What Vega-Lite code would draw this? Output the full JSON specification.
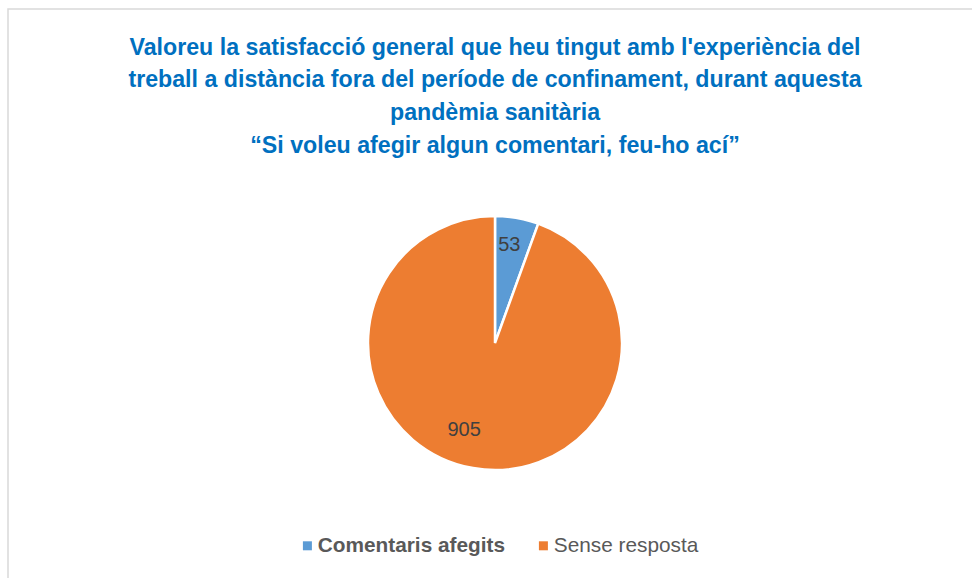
{
  "$schema": "https://vega.github.io/schema/vega-lite/v6.json",
  "width": 974,
  "height": 668,
  "autosize": {"type": "none"},
  "padding": {"left": 8, "top": 9, "right": -10, "bottom": -99},
  "background": "white",
  "view": {"stroke": "#d9d9d9", "strokeWidth": 1.5, "fill": "white"},
  "config": {
    "view": {"stroke": "#d9d9d9", "strokeWidth": 1.5},
    "font": "Liberation Sans"
  },
  "title": {
    "text": [
      "Valoreu la satisfacció general que heu tingut amb l'experiència del",
      "treball a distància fora del període de confinament, durant aquesta",
      "pandèmia sanitària",
      "“Si voleu afegir algun comentari, feu-ho ací”"
    ],
    "orient": "top",
    "anchor": "middle",
    "baseline": "top",
    "offset": -149,
    "font": "Liberation Sans",
    "fontSize": 23.2,
    "fontWeight": "bold",
    "color": "#0070C0",
    "lineHeight": 32.7
  },
  "data": {
    "values": [
      {"categoria": "Comentaris afegits", "n": 53, "ordre": 1},
      {"categoria": "Sense resposta", "n": 905, "ordre": 2}
    ]
  },
  "encoding": {
    "theta": {"field": "n", "type": "quantitative", "stack": true},
    "order": {"field": "ordre", "type": "quantitative"}
  },
  "layer": [
    {
      "mark": {"type": "arc", "outerRadius": 127, "stroke": "white", "strokeWidth": 2.5},
      "encoding": {
        "color": {
          "field": "categoria",
          "type": "nominal",
          "scale": {"domain": ["Comentaris afegits", "Sense resposta"], "range": ["#5B9BD5", "#ED7D31"]},
          "legend": {
            "title": null,
            "orient": "none",
            "direction": "horizontal",
            "legendX": 289,
            "legendY": 526,
            "symbolType": "square",
            "symbolSize": 81,
            "symbolStrokeWidth": 0,
            "labelFont": "Liberation Sans",
            "labelFontSize": 20.8,
            "labelFontWeight": {"expr": "datum.label == 'Comentaris afegits' ? 'bold' : 'normal'"},
            "labelColor": "#595959",
            "labelOffset": 0,
            "labelLimit": 400,
            "columnPadding": 27
          }
        }
      }
    },
    {
      "mark": {
        "type": "text",
        "fontSize": 20,
        "font": "Liberation Sans",
        "color": "#404040",
        "radius": {"expr": "datum.n > 100 ? 92 : 100"},
        "dx": {"expr": "datum.n > 100 ? -15 : -3"},
        "dy": {"expr": "datum.n > 100 ? -4 : 0"}
      },
      "encoding": {
        "text": {"field": "n", "type": "quantitative"}
      }
    }
  ]
}
